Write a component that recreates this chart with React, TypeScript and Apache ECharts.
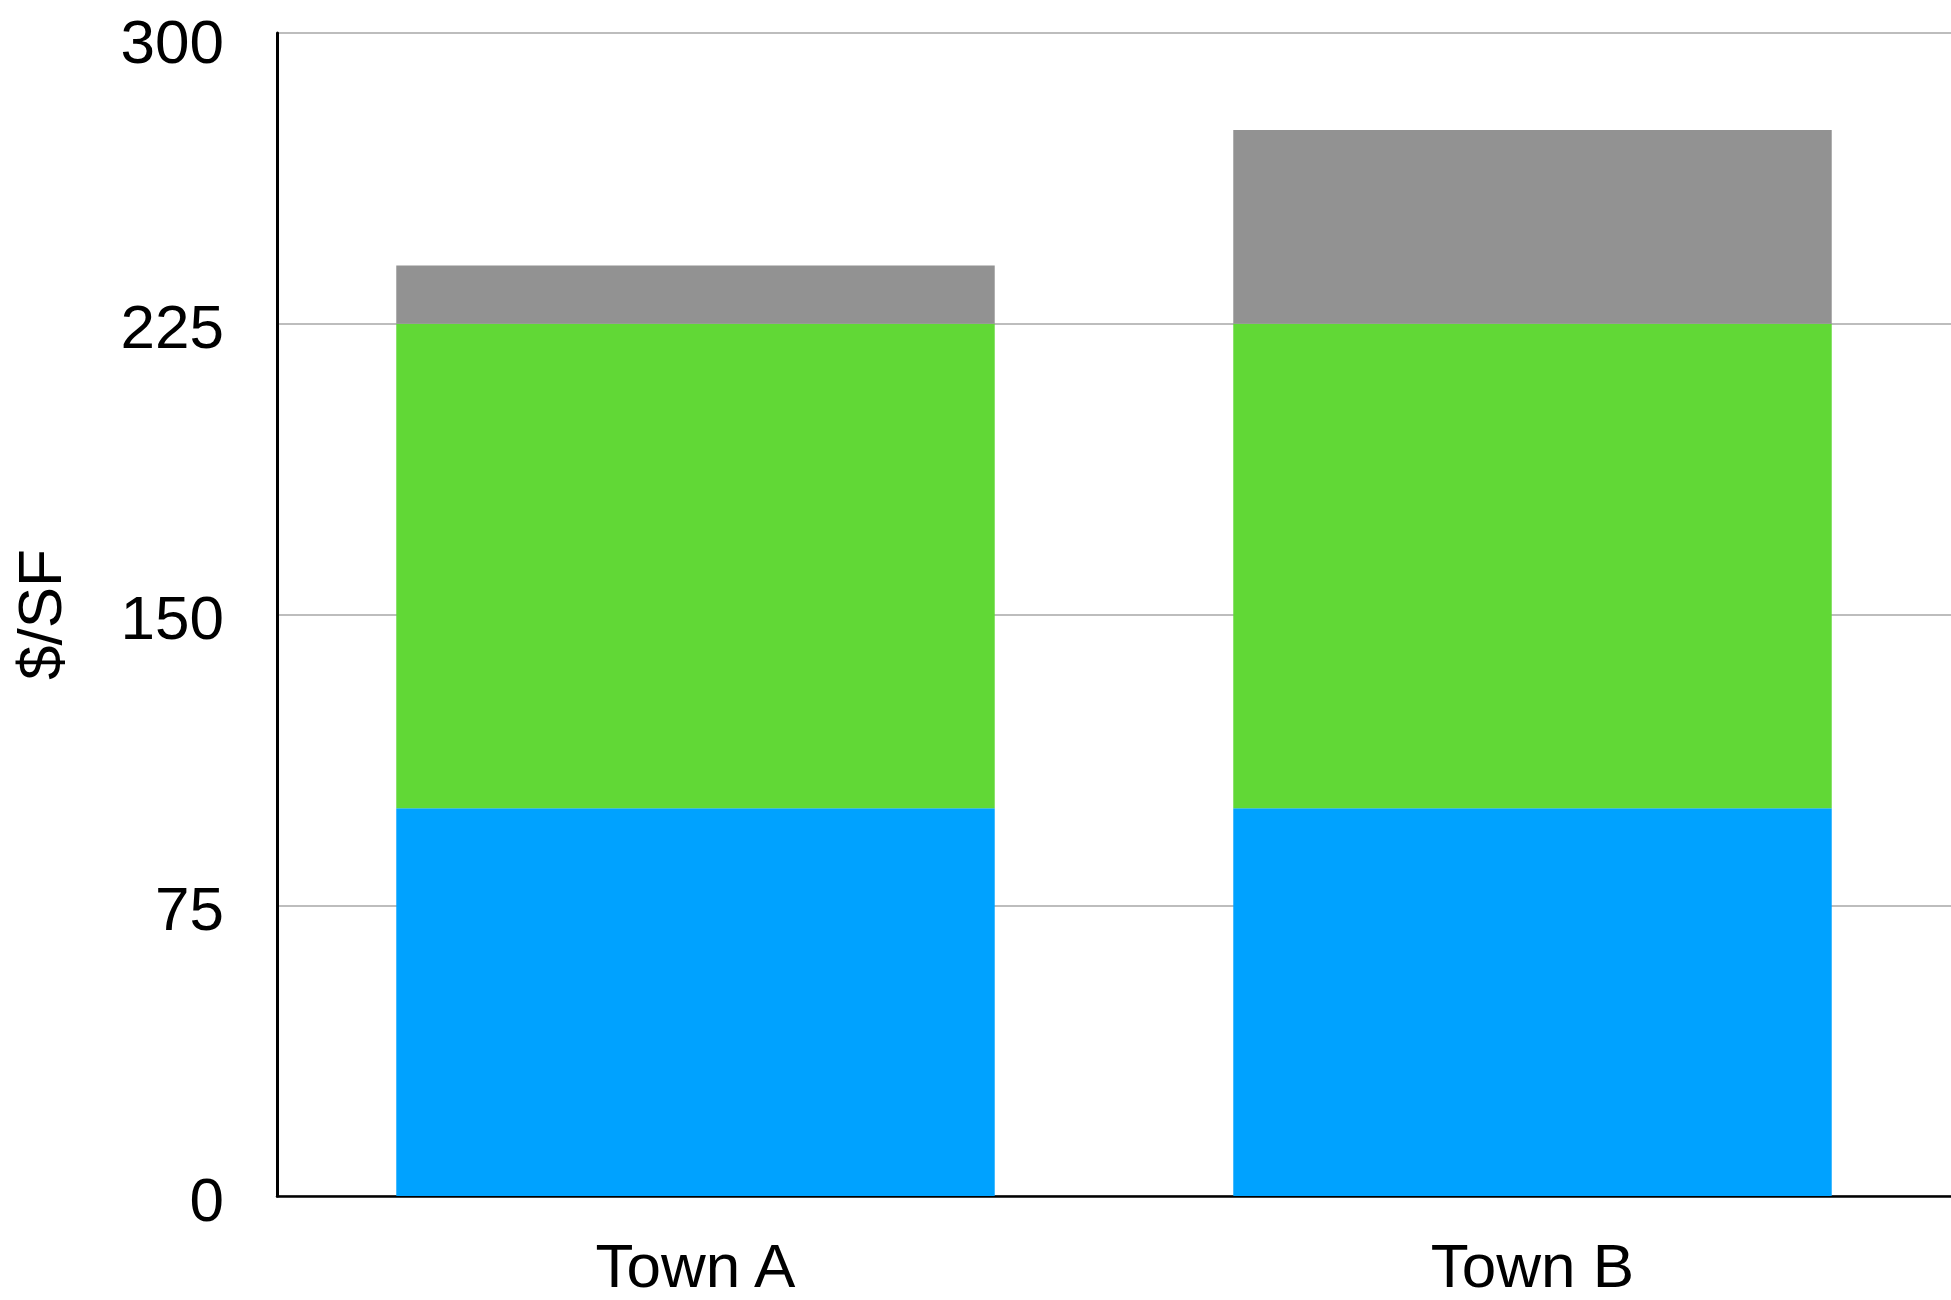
import React, { useEffect, useRef } from "react";
import * as echarts from "echarts";

const categories = ["Town A", "Town B"];
const baseValues = [100, 100];
const midValues = [125, 125];
const topValues = [15, 50];
const yTicks = { min: 0, max: 300, interval: 75 };
const yName = "$/SF";

const FONT = "'Liberation Sans', Arial, Helvetica, sans-serif";

export default function App() {
  const ref = useRef<HTMLDivElement>(null);
  useEffect(() => {
    if (!ref.current) return;
    const chart = echarts.init(ref.current, null, { renderer: "svg" });
    chart.setOption({
      animation: false,
      backgroundColor: "#ffffff",
      grid: { left: 275, top: 26, right: 0, bottom: 104, containLabel: false },
      xAxis: {
        type: "category",
        data: categories,
        axisLine: { show: true, lineStyle: { color: "#000000", width: 2.5 } },
        axisTick: { show: false },
        axisLabel: { fontSize: 62, lineHeight: 62, color: "#000000", fontFamily: FONT, margin: 38 },
        splitLine: { show: false },
      },
      yAxis: {
        type: "value",
        min: yTicks.min,
        max: yTicks.max,
        interval: yTicks.interval,
        name: yName,
        nameLocation: "middle",
        nameRotate: 90,
        nameGap: 207,
        nameTextStyle: { fontSize: 62, color: "#000000", fontFamily: FONT },
        axisLine: { show: true, lineStyle: { color: "#000000", width: 3 } },
        axisTick: { show: false },
        axisLabel: {
          fontSize: 62,
          lineHeight: 46,
          padding: [6, 0, 0, 0],
          color: "#000000",
          fontFamily: FONT,
          margin: 53,
          formatter: (v: number) => (v === yTicks.max ? "{t|" + v + "}" : String(v)),
          rich: {
            t: {
              fontSize: 62,
              lineHeight: 46,
              color: "#000000",
              fontFamily: FONT,
              padding: [10, 0, 0, 0],
            },
          },
        },
        splitLine: { show: true, lineStyle: { color: "#bdbdbd", width: 2 } },
      },
      series: [
        {
          type: "bar",
          stack: "total",
          data: baseValues,
          barCategoryGap: "28.5%",
          itemStyle: { color: "#00A2FF" },
        },
        {
          type: "bar",
          stack: "total",
          data: midValues,
          itemStyle: { color: "#61D836" },
        },
        {
          type: "bar",
          stack: "total",
          data: topValues,
          itemStyle: { color: "#929292" },
        },
      ],
    });
    return () => chart.dispose();
  }, []);
  return (
    <div
      ref={ref}
      style={{ position: "absolute", left: 0, top: 0, width: 1951, height: 1300 }}
    />
  );
}
